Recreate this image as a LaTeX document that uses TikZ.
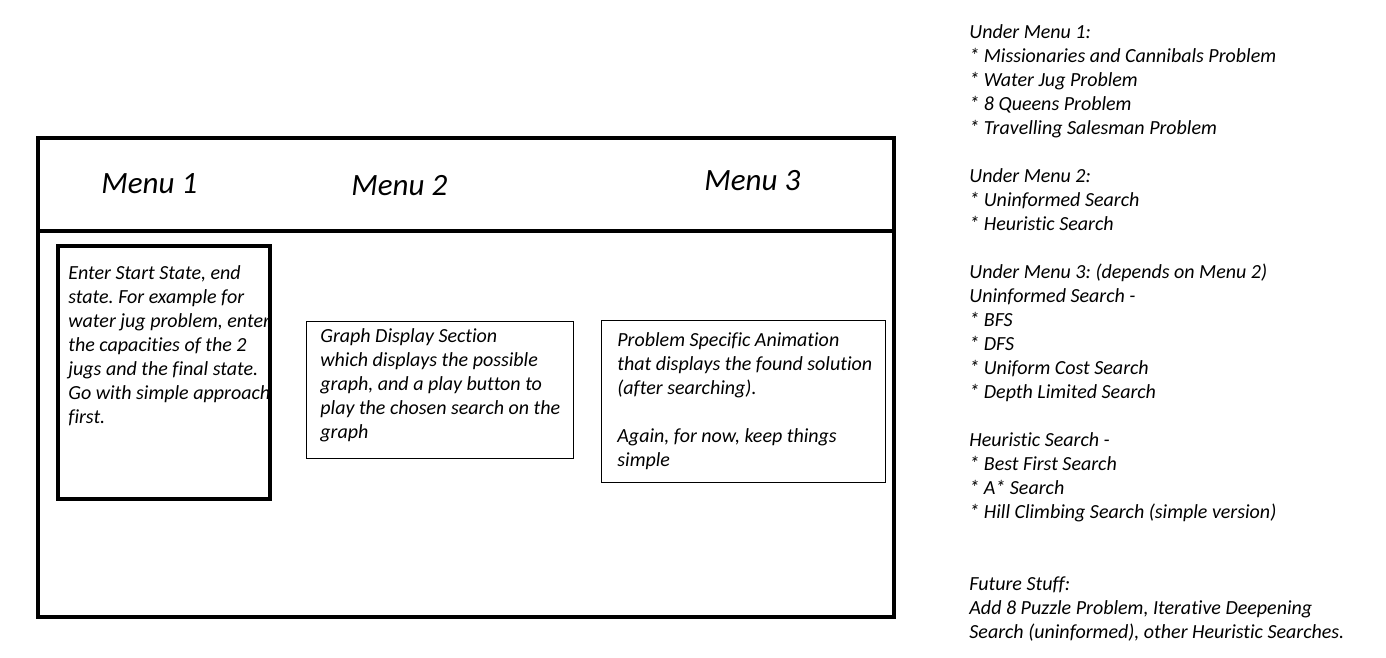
\documentclass[tikz,border=0pt]{standalone}
\usepackage{fontspec}
\setmainfont{Carlito}[Ligatures=CommonOff]
\frenchspacing

\tikzset{
  note/.style={anchor=north west, inner sep=0pt, align=left,
    font=\fontsize{10}{12}\selectfont\itshape},
  menu/.style={anchor=base west, inner sep=0pt,
    font=\fontsize{15.5}{19}\selectfont\itshape},
  frame/.style={line width=2.25pt},
  panel/.style={line width=0.5pt}
}

\begin{document}
\begin{tikzpicture}[x=0.5pt, y=-0.5pt]
\useasboundingbox (0,0) rectangle (1386,658);

% window and menu bar
\draw[frame] (38,138) rectangle (894,617);
\draw[frame] (38,231) -- (894,231);
\node[menu] (menuA) at (101,193) {Menu 1};
\node[menu] (menuB) at (351,195) {Menu 2};
\node[menu] (menuC) at (704,190) {Menu 3};

% start state input
\begin{scope}
\clip (58,246) rectangle (269,499);
\node[note] (input) at (68,262) {\strut Enter Start State, end\\
state. For example for\\ water jug problem, enter\\ the capacities of the 2\\
jugs and the final state.\\ Go with simple approach\\ first.};
\end{scope}
\draw[line width=2pt] (58,246) rectangle (270,499);

% graph display
\draw[panel] (306,321) rectangle (573,458);
\node[note] (graph) at (320,325) {\strut Graph Display Section\\
which displays the possible\\ graph, and a play button to\\
play the chosen search on the\\ graph};

% animation
\draw[panel] (601,320) rectangle (885,482);
\node[note] (anim) at (617,329) {\strut Problem Specific Animation\\
that displays the found solution\\ (after searching).\\[12pt]
Again, for now, keep things\\ simple};

% side notes
\node[note] (notes) at (969,21) {\strut Under Menu 1:\\
* Missionaries and Cannibals Problem\\ * Water Jug Problem\\
* 8 Queens Problem\\ * Travelling Salesman Problem\\[12pt]
Under Menu 2:\\ * Uninformed Search\\ * Heuristic Search\\[12pt]
Under Menu 3: (depends on Menu 2)\\ Uninformed Search -\\ * BFS\\ * DFS\\
* Uniform Cost Search\\ * Depth Limited Search\\[12pt]
Heuristic Search -\\ * Best First Search\\ * A* Search\\
* Hill Climbing Search (simple version)\\[24pt]
Future Stuff:\\ Add 8 Puzzle Problem, Iterative Deepening\\
Search (uninformed), other Heuristic Searches.};

\end{tikzpicture}
\end{document}
